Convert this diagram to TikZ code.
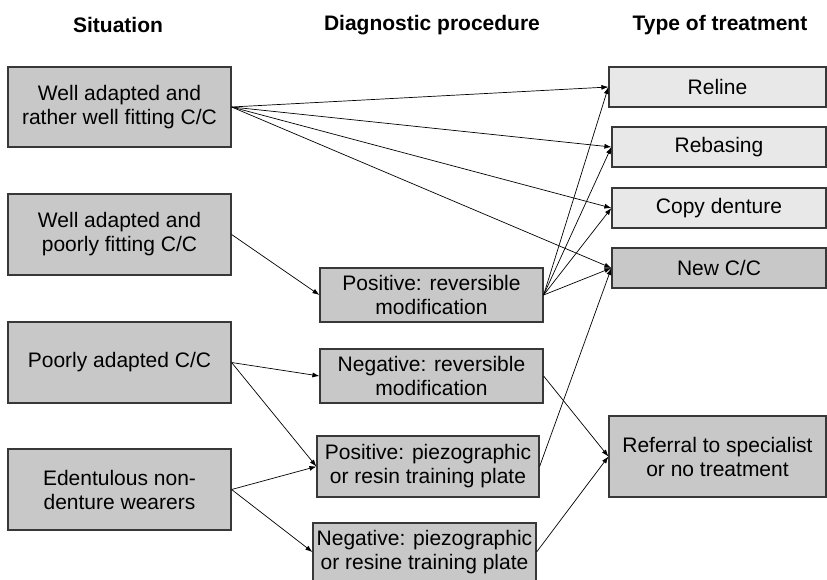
\documentclass[tikz,border=0pt]{standalone}
\usepackage{fontspec}
\setmainfont{Liberation Sans}
\usetikzlibrary{arrows.meta}
\definecolor{boxdark}{HTML}{C8C8C8}
\definecolor{boxlight}{HTML}{E8E8E8}
\definecolor{edge}{HTML}{383838}
\begin{document}
\begin{tikzpicture}[x=1pt,y=-1pt,
  every node/.style={font=\fontsize{21}{24}\selectfont},
  box/.style={draw=edge, line width=1.2pt, inner sep=0pt, align=center, minimum width=#1},
  box/.default=223pt,
  dark/.style={fill=boxdark},
  light/.style={fill=boxlight},
  head/.style={font=\fontsize{21}{24}\selectfont\bfseries},
  arr/.style={line width=0.7pt, -{Latex[length=7pt,width=5pt]}}
]
\useasboundingbox (0,0) rectangle (827,579);
\clip (0,0) rectangle (827,579);
% headers
\node[head] (h1) at (118,25) {Situation};
\node[head] (h2) at (432,25) {Diagnostic procedure};
\node[head] (h3) at (720,25) {Type of treatment};
% left column
\node[box,dark,minimum height=80pt] (L1) at (119.5,107) {Well adapted and\\rather well fitting C/C};
\node[box,dark,minimum height=81pt] (L2) at (119.5,234.5) {Well adapted and\\poorly fitting C/C};
\node[box,dark,minimum height=81pt] (L3) at (119.5,362.5) {Poorly adapted C/C};
\node[box,dark,minimum height=81pt] (L4) at (119.5,489.5) {Edentulous non-\\denture wearers};
% middle column
\node[box,dark,minimum height=54pt] (M1) at (431.5,295) {Positive: reversible\\modification};
\node[box,dark,minimum height=54pt] (M2) at (431.5,376) {Negative: reversible\\modification};
\node[box=222pt,dark,minimum height=61pt] (M3) at (428,466.5) {Positive: piezographic\\or resin training plate};
\node[box,dark,minimum height=58pt] (M4) at (424.5,552) {Negative: piezographic\\or resine training plate};
% right column
\node[box=217pt,light,minimum height=40pt] (R1) at (717.5,87) {Reline};
\node[box=214pt,light,minimum height=40pt] (R2) at (719,147) {Rebasing};
\node[box=214pt,light,minimum height=40pt] (R3) at (719,208) {Copy denture};
\node[box=214pt,dark,minimum height=40pt] (R4) at (719,268) {New C/C};
\node[box=217pt,dark,minimum height=81pt] (R5) at (717.5,456.5) {Referral to specialist\\or no treatment};
% connectors
\foreach \t in {R1,R2,R3,R4} {
  \draw[arr] (L1.east) -- (\t.west);
  \draw[arr] (M1.east) -- (\t.west);
}
\draw[arr] (L2.east) -- (M1.west);
\draw[arr] (L3.east) -- (M2.west);
\draw[arr] (L3.east) -- (M3.west);
\draw[arr] (L4.east) -- (M3.west);
\draw[arr] (L4.east) -- (M4.west);
\draw[arr] (M3.east) -- (R4.west);
\draw[arr] (M2.east) -- (R5.west);
\draw[arr] (M4.east) -- (R5.west);
\end{tikzpicture}
\end{document}
